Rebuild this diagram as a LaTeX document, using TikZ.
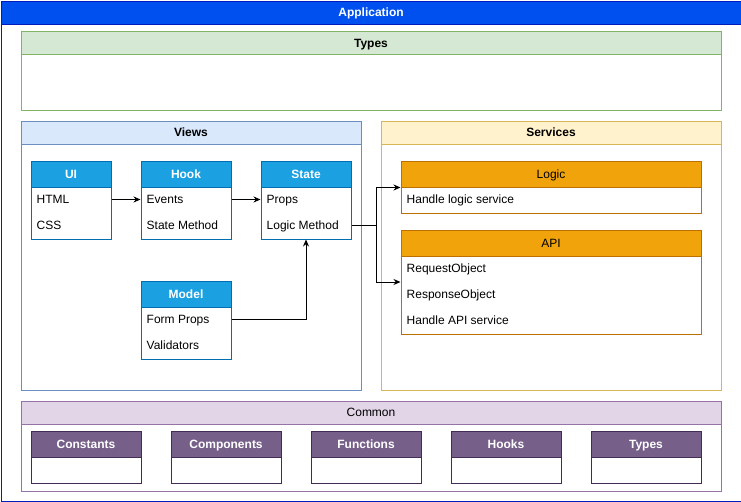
\documentclass[tikz,border=0pt]{standalone}
\usepackage{fontspec}
\setmainfont{Liberation Sans}
\usetikzlibrary{arrows.meta,calc}
\definecolor{appfill}{HTML}{0050EF}
\definecolor{appline}{HTML}{001DBC}
\definecolor{grfill}{HTML}{D5E8D4}
\definecolor{grline}{HTML}{82B366}
\definecolor{blfill}{HTML}{DAE8FC}
\definecolor{blline}{HTML}{6C8EBF}
\definecolor{yefill}{HTML}{FFF2CC}
\definecolor{yeline}{HTML}{D6B656}
\definecolor{orfill}{HTML}{F0A30A}
\definecolor{orline}{HTML}{BD7000}
\definecolor{cyfill}{HTML}{1BA1E2}
\definecolor{cyline}{HTML}{006EAF}
\definecolor{pufill}{HTML}{E1D5E7}
\definecolor{puline}{HTML}{9673A6}
\definecolor{vifill}{HTML}{76608A}
\definecolor{viline}{HTML}{432D57}
\newcommand{\lbox}[8]{%
  \node[body=#6, minimum width=#4, minimum height={26*#5}, anchor=north west] (#1b) at (#2,{#3+26}) {};
  \node[bhdr#6, minimum width=#4, anchor=north west] (#1) at (#2,#3) {#7};
  \foreach \r [count=\i] in {#8} \node[row, anchor=west] (#1\i) at ({#2+6},{#3+13+26*\i}) {\r};
}
\begin{document}
\begin{tikzpicture}[x=1pt,y=-1pt,font=\fontsize{12}{14}\selectfont,
  lw/.style={line width=1pt},
  tx/.style={text height=11pt, text depth=2.4pt},
  cbody/.style={draw=#1, lw, fill=white, rectangle, inner sep=0pt},
  chdr/.style 2 args={draw=#2, fill=#1, lw, rectangle, inner sep=0pt, tx, minimum height=23, font=\fontsize{12}{14}\selectfont\bfseries},
  body/.style={rectangle, inner sep=0pt, fill=white, lw, draw=#1line},
  bhdrcy/.style={rectangle, inner sep=0pt, tx, lw, draw=cyline, fill=cyfill, text=white, minimum height=26, font=\fontsize{12}{14}\selectfont\bfseries},
  bhdror/.style={rectangle, inner sep=0pt, tx, lw, draw=orline, fill=orfill, text=black, minimum height=26},
  bhdrvi/.style={rectangle, inner sep=0pt, tx, lw, draw=viline, fill=vifill, text=white, minimum height=26, font=\fontsize{12}{14}\selectfont\bfseries},
  row/.style={inner sep=0pt, tx, text=black},
  arr/.style={lw, -{Stealth[length=7pt,width=6pt]}}]
\useasboundingbox (0,0) rectangle (741,501);
% Application
\node[cbody=appline, minimum width=740, minimum height=477, anchor=north west] (appb) at (0.5,23.5) {};
\node[chdr={appfill}{appline}, text=white, minimum width=740, anchor=north west] (app) at (0.5,0.5) {Application};
% Types
\node[cbody=grline, minimum width=700, minimum height=56, anchor=north west] (typesb) at (20.5,54) {};
\node[chdr={grfill}{grline}, minimum width=700, anchor=north west] (types) at (20.5,31) {Types};
% Views
\node[cbody=blline, minimum width=340, minimum height=246, anchor=north west] (viewsb) at (20.5,143.5) {};
\node[chdr={blfill}{blline}, minimum width=340, anchor=north west] (views) at (20.5,120.5) {Views};
% Services
\node[cbody=yeline, minimum width=340, minimum height=246, anchor=north west] (servb) at (380.5,143.5) {};
\node[chdr={yefill}{yeline}, minimum width=340, anchor=north west] (serv) at (380.5,120.5) {Services};
% Common
\node[cbody=puline, minimum width=700, minimum height=67, anchor=north west] (comb) at (20.5,423.5) {};
\node[chdr={pufill}{puline}, minimum width=700, anchor=north west, font=\fontsize{12}{14}\selectfont] (com) at (20.5,400.5) {Common};
% View boxes
\lbox{ui}{30.5}{160.5}{80}{2}{cy}{UI}{HTML,CSS}
\lbox{hook}{140.5}{160.5}{90}{2}{cy}{Hook}{Events,State Method}
\lbox{state}{260.5}{160.5}{90}{2}{cy}{State}{Props,Logic Method}
\lbox{model}{140.5}{280.5}{90}{2}{cy}{Model}{Form Props,Validators}
% Service boxes
\lbox{logic}{400.5}{160.5}{300}{1}{or}{Logic}{Handle logic service}
\lbox{api}{400.5}{229.5}{300}{3}{or}{API}{RequestObject,ResponseObject,Handle API service}
% Common boxes
\foreach \n/\t [count=\k] in {cst/Constants,cmp/Components,fun/Functions,hks/Hooks,typ/Types}{
  \node[body=vi, minimum width=110, minimum height=26, anchor=north west] (\n b) at ({30.5+140*(\k-1)},456.5) {};
  \node[bhdrvi, minimum width=110, anchor=north west] (\n) at ({30.5+140*(\k-1)},430.5) {\t};
}
% connectors
\draw[arr] (ui1 -| uib.east) -- (hook1 -| hookb.west);
\draw[arr] (hook1 -| hookb.east) -- (state1 -| stateb.west);
\draw[arr] (model1 -| modelb.east) -| (stateb.south);
\coordinate (jn) at ($(state2 -| stateb.east)+(25,0)$);
\coordinate (apimid) at ($(api.north west)!0.5!(apib.south west)$);
\draw[arr] (state2 -| stateb.east) -- (jn) |- (logic.south west);
\draw[arr] (jn) |- (apimid);
\end{tikzpicture}
\end{document}
